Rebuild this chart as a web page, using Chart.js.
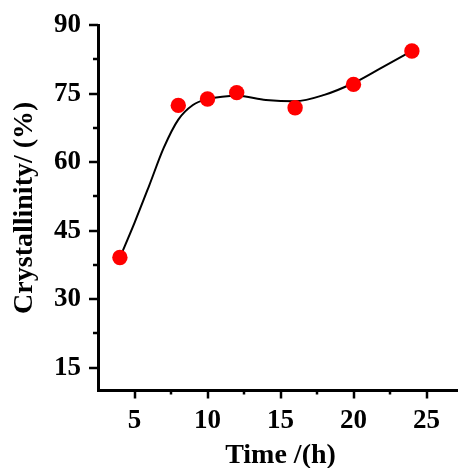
<!DOCTYPE html>
<html>
<head>
<meta charset="utf-8">
<script src="https://cdn.jsdelivr.net/npm/chart.js@4.4.1/dist/chart.umd.min.js"></script>
<style>
  html, body { margin: 0; padding: 0; background: #fff; overflow: hidden; }
  canvas { display: block; }
</style>
</head>
<body>
<canvas id="chart" width="472" height="468"></canvas>
<script>
// Measured crystallinity over synthesis time
const timeHours = [4, 8, 10, 12, 16, 20, 24];
const crystallinity = [39.1, 72.4, 73.8, 75.2, 71.9, 77.0, 84.3];

// Smooth fitted trend through the measurements
const fitTime = [4, 5, 6, 7, 8, 9, 10, 11, 12, 14, 16, 18, 20, 22, 24];
const fitCrystallinity = [39.1, 46.7, 54.8, 63.1, 69.3, 72.5, 73.8, 74.3, 74.5, 73.6, 73.3, 74.7, 77.3, 80.8, 84.3];

// Axis ticks (labelled) and the unlabelled minor ticks between them
const xTicks = [5, 10, 15, 20, 25];
const xMinorTicks = [7.5, 12.5, 17.5, 22.5, 27.5];
const yTicks = [15, 30, 45, 60, 75, 90];
const yMinorTicks = [22.5, 37.5, 52.5, 67.5, 82.5];

const FONT = "'Liberation Serif', 'Times New Roman', serif";

// Outward tick marks, long for labelled ticks and short for minor ones
const tickMarks = {
  id: 'tickMarks',
  afterDraw(chart) {
    const { ctx, scales: { x, y } } = chart;
    ctx.save();
    ctx.strokeStyle = '#000';
    ctx.lineWidth = 2.5;
    const yAxisX = chart.chartArea.left;
    const xAxisY = chart.chartArea.bottom;
    const drawY = (v, len) => {
      const py = Math.round(y.getPixelForValue(v));
      ctx.beginPath(); ctx.moveTo(yAxisX - len, py); ctx.lineTo(yAxisX, py); ctx.stroke();
    };
    const drawX = (v, len) => {
      const px = Math.round(x.getPixelForValue(v));
      ctx.beginPath(); ctx.moveTo(px, xAxisY); ctx.lineTo(px, xAxisY + len); ctx.stroke();
    };
    yTicks.forEach(v => drawY(v, 9));
    yMinorTicks.forEach(v => drawY(v, 5));
    xTicks.forEach(v => drawX(v, 8));
    xMinorTicks.forEach(v => drawX(v, 4));
    ctx.restore();
  }
};

new Chart(document.getElementById('chart'), {
  type: 'scatter',
  data: {
    datasets: [
      {
        label: 'Crystallinity',
        data: timeHours.map((t, i) => ({ x: t, y: crystallinity[i] })),
        backgroundColor: '#ff0000',
        borderColor: '#ff0000',
        borderWidth: 0,
        pointRadius: 7.7,
        pointHoverRadius: 7.7,
        showLine: false,
        order: 0
      },
      {
        label: 'Fit',
        data: fitTime.map((t, i) => ({ x: t, y: fitCrystallinity[i] })),
        borderColor: '#000',
        borderWidth: 2,
        pointRadius: 0,
        showLine: true,
        cubicInterpolationMode: 'monotone',
        fill: false,
        order: 1
      }
    ]
  },
  options: {
    responsive: false,
    animation: false,
    clip: false,
    layout: { padding: { top: 25, right: 9, bottom: 0, left: 0 } },
    plugins: { legend: { display: false }, tooltip: { enabled: false } },
    scales: {
      x: {
        type: 'linear',
        min: 2.5,
        max: 27.5,
        afterBuildTicks(scale) { scale.ticks = xTicks.map(v => ({ value: v })); },
        afterFit(scale) {
          scale.height = 77.5;
          scale.paddingLeft = 0;
          scale.paddingRight = 0;
        },
        grid: { display: true, drawOnChartArea: false, drawTicks: false },
        border: { display: true, color: '#000', width: 3 },
        ticks: {
          color: '#000',
          padding: 14,
          maxRotation: 0,
          autoSkip: false,
          font: { family: FONT, size: 27, weight: 'bold' }
        },
        title: {
          display: true,
          text: 'Time /(h)',
          color: '#000',
          padding: { top: 0, bottom: -2 },
          font: { family: FONT, size: 28, weight: 'bold', lineHeight: 1 }
        }
      },
      y: {
        type: 'linear',
        min: 10,
        max: 90,
        afterBuildTicks(scale) { scale.ticks = yTicks.map(v => ({ value: v })); },
        afterFit(scale) {
          scale.width = 98;
          scale.paddingTop = 0;
          scale.paddingBottom = 0;
        },
        grid: { display: true, drawOnChartArea: false, drawTicks: false },
        border: { display: true, color: '#000', width: 3 },
        ticks: {
          color: '#000',
          padding: 17,
          autoSkip: false,
          font: { family: FONT, size: 27, weight: 'bold' }
        },
        title: {
          display: true,
          text: 'Crystallinity/ (%)',
          color: '#000',
          padding: { top: 11, bottom: 0 },
          font: { family: FONT, size: 28, weight: 'bold', lineHeight: 1 }
        }
      }
    }
  },
  plugins: [tickMarks]
});
</script>
</body>
</html>
